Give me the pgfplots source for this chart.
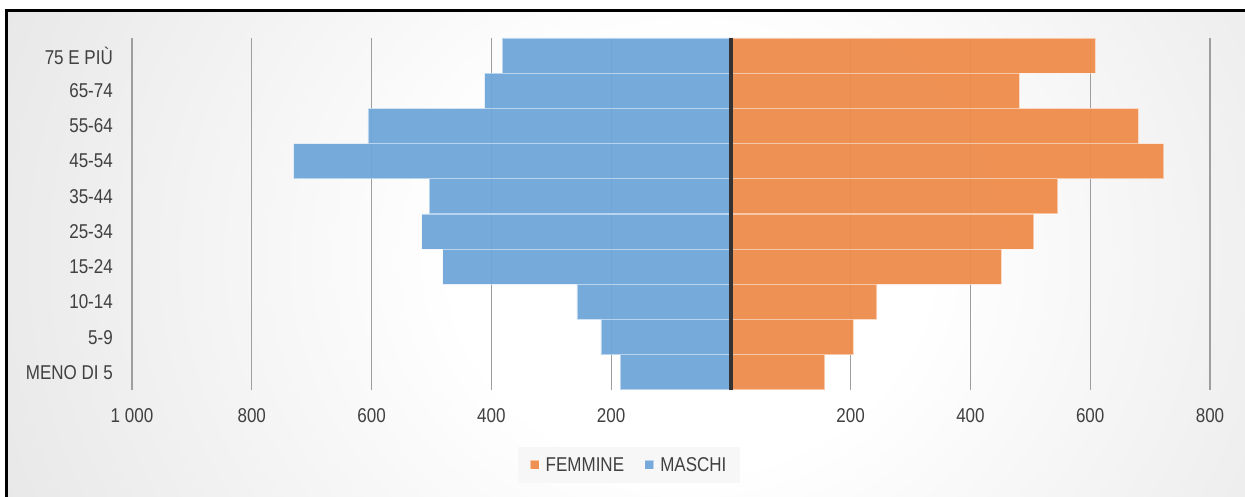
\documentclass[border=0pt]{standalone}
\usepackage{fontspec}
\setmainfont{Liberation Sans}[FakeStretch=0.85]
\usepackage{pgfplots}
\pgfplotsset{compat=1.18}
\definecolor{maschi}{HTML}{6FA6DA}
\definecolor{femmine}{HTML}{EE8C4B}
\definecolor{bggray}{HTML}{C6C6C6}
\definecolor{txt}{HTML}{404040}
\pgfdeclareradialshading{bgshade}{\pgfpoint{0bp}{0bp}}{color(0bp)=(white);color(8bp)=(white);color(50bp)=(bggray)}
\begin{document}
\begin{tikzpicture}[x=1bp,y=1bp]
\useasboundingbox (0,0) rectangle (1245,497);
\fill[white] (0,0) rectangle (1245,497);
\begin{scope}
\clip (6,-5) rectangle (1250,487);
\fill[bggray] (6,-5) rectangle (1250,487);
\shade[shading=bgshade] (690,240) ellipse (740 and 660);
\end{scope}
\draw[line width=2.5bp] (6.5,-10) -- (6.5,486.5) -- (1260,486.5);
\coordinate (AX) at (132,107);
\begin{axis}[
  at={(AX)}, anchor=south west,
  scale only axis, width=1078bp, height=352bp,
  xmin=-1000, xmax=800, ymin=-0.5, ymax=9.5,
  xbar, bar width=1, bar shift=0pt,
  ytick={0,...,9},
  yticklabels={MENO DI 5,5-9,10-14,15-24,25-34,35-44,45-54,55-64,65-74,75 E PIÙ},
  xtick={-1000,-800,-600,-400,-200,200,400,600,800},
  xticklabels={1 000,800,600,400,200,200,400,600,800},
  xmajorgrids, grid style={color=black!38, line width=1.2bp},
  axis line style={draw=none}, major tick length=0pt, tick style={draw=none},
  ticklabel style={font=\fontsize{20bp}{24bp}\selectfont, text=txt, inner sep=0pt},
  yticklabel style={anchor=east, xshift=-19bp},
  xticklabel style={anchor=north, yshift=-18bp},
  legend columns=2,
  legend style={at={(axis description cs:0.461,-0.213)}, anchor=center,
    fill=black!3, draw=none, font=\fontsize{20bp}{24bp}\selectfont, text=txt,
    inner xsep=12bp, inner ysep=8bp,
    /tikz/every even column/.append style={column sep=18bp}},
  legend image code/.code={\path (0bp,0bp) -- (13bp,0bp);\draw[#1,line width=0.6bp] (0bp,-4.5bp) rectangle (9bp,4.5bp);},
]
\addplot[fill=femmine, fill opacity=0.95, draw=white, draw opacity=0.5, line width=1.2bp]
  coordinates {(157,0) (205,1) (244,2) (452,3) (506,4) (546,5) (723,6) (681,7) (482,8) (609,9)};
\addplot[fill=maschi, fill opacity=0.95, draw=white, draw opacity=0.5, line width=1.2bp]
  coordinates {(-185,0) (-217,1) (-257,2) (-481,3) (-516,4) (-504,5) (-730,6) (-606,7) (-411,8) (-382,9)};
\legend{FEMMINE, MASCHI}
\draw[line width=3.5bp, black!80] (axis cs:0,-0.5) -- (axis cs:0,9.5);
\end{axis}
\end{tikzpicture}
\end{document}
